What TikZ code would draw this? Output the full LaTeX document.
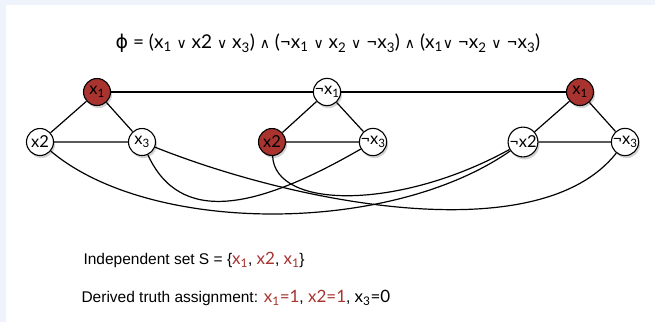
\documentclass[tikz,border=0pt]{standalone}
\usepackage{fontspec}
\setmainfont{Lato}
\newfontfamily\symfont{DejaVu Sans}
\newfontfamily\helv{Liberation Sans}
\usetikzlibrary{shadows}
\definecolor{litRed}{HTML}{A8332F}
\definecolor{frameBlue}{HTML}{EEF3FC}
\newcommand{\lx}[1]{x\textsubscript{#1}}
\newcommand{\orr}{\ {\symfont\fontsize{14}{14}\selectfont ∨}\ }
\newcommand{\andd}{\ {\symfont\fontsize{14}{14}\selectfont ∧}\ }
\newcommand{\bigx}[1]{{\rmfamily\fontsize{17}{17}\selectfont #1}}
\tikzset{
  lit/.style={circle, draw=black, line width=1.1pt, fill=white, minimum size=27pt,
    inner sep=0pt, font=\fontsize{16.5}{16.5}\selectfont,
    drop shadow={opacity=0.35, shadow xshift=1.5pt, shadow yshift=-2.5pt}},
  chosen/.style={lit, fill=litRed},
  edge/.style={line width=1.2pt},
  txt/.style={anchor=west, font=\helv\fontsize{15.5}{17}\selectfont}
}

\begin{document}
\begin{tikzpicture}[x=1pt,y=-1pt]
  \useasboundingbox (0,0) rectangle (655,322);
  \fill[frameBlue] (0,0) rectangle (655,322);
  \fill[white] (6,5) rectangle (655,322);
  % formula
  \node[font=\fontsize{19}{19}\selectfont] (phi) at (328,43)
    {{\symfont ϕ} = (\lx1\orr x2\orr\lx3)\andd(¬\lx1\orr\lx2\orr¬\lx3)\andd(\lx1{\symfont\fontsize{14}{14}\selectfont ∨}\ ¬\lx2\orr¬\lx3)};
  % clause gadgets
  \node[chosen] (a1) at (97,92) {\lx1};
  \node[lit] (a2) at (40,142) {x2};
  \node[lit] (a3) at (142,142) {\lx3};
  \node[lit] (b1) at (327,92) {¬\lx1};
  \node[chosen] (b2) at (272,142) {x2};
  \node[lit] (b3) at (373,142) {¬\lx3};
  \node[chosen] (c1) at (580,92) {\lx1};
  \node[lit] (c2) at (523,142) {¬x2};
  \node[lit] (c3) at (625,142) {¬\lx3};
  \foreach \g in {a,b,c}{
    \draw[edge] (\g1) -- (\g2) (\g1) -- (\g3) (\g2) -- (\g3);
  }
  % conflict edges
  \draw[edge] (a1) -- (b1) (b1) -- (c1);
  \draw[edge] (a2) .. controls (150,235) and (390,235) .. (c2);
  \draw[edge] (a3) .. controls (180,225) and (255,210) .. (b3);
  \draw[edge] (a3) .. controls (300,205) and (540,250) .. (c3);
  \draw[edge] (b2) .. controls (275,210) and (400,210) .. (c2);
  % result
  \node[txt] (indep) at (80,260) {Independent set S = \{\textcolor{litRed}{\bigx{\lx1}}, \textcolor{litRed}{\bigx{x2}}, \textcolor{litRed}{\bigx{\lx1}}\}};
  \node[txt] (assign) at (78,298) {Derived truth assignment: \textcolor{litRed}{\bigx{\lx1=1}}, \textcolor{litRed}{\bigx{x2=1}}, \bigx{\lx3=0}};
\end{tikzpicture}
\end{document}
